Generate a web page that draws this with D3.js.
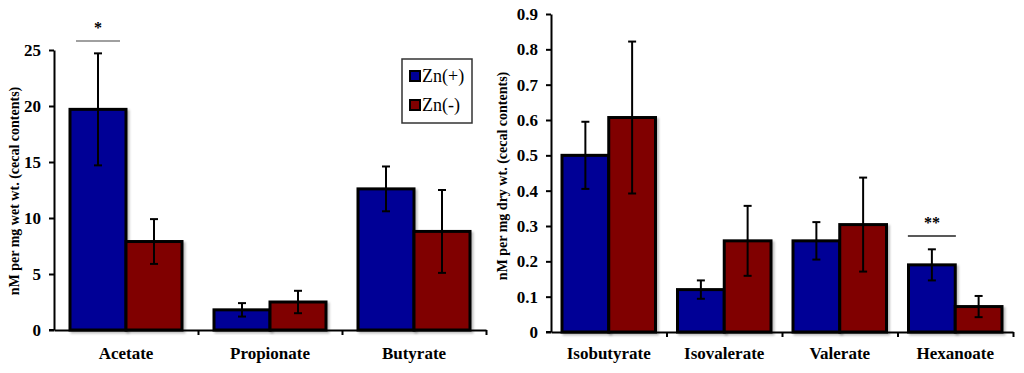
<!DOCTYPE html>
<html>
<head>
<meta charset="utf-8">
<script src="https://cdn.jsdelivr.net/npm/d3@7/dist/d3.min.js"></script>
<style>
  body { margin: 0; background: #fff; }
  svg { display: block; }
  svg text { font-family: "Liberation Serif", Tinos, "Times New Roman", "DejaVu Serif", serif !important; }
</style>
</head>
<body>
<div id="chart"></div>
<script>
// data
var series = ["Zn(+)", "Zn(-)"];
var colors = ["#000096", "#800000"];

var leftCats = ["Acetate", "Propionate", "Butyrate"];
var leftPlus = [19.7, 1.8, 12.6];
var leftPlusErr = [5.0, 0.6, 2.0];
var leftMinus = [7.9, 2.5, 8.8];
var leftMinusErr = [2.0, 1.0, 3.7];
var leftTicks = [0, 5, 10, 15, 20, 25];

var rightCats = ["Isobutyrate", "Isovalerate", "Valerate", "Hexanoate"];
var rightPlus = [0.50, 0.12, 0.258, 0.19];
var rightPlusErr = [0.095, 0.026, 0.053, 0.044];
var rightMinus = [0.607, 0.258, 0.304, 0.072];
var rightMinusErr = [0.215, 0.099, 0.133, 0.03];
var rightTicks = [0, 0.1, 0.2, 0.3, 0.4, 0.5, 0.6, 0.7, 0.8, 0.9];

var serif = "'Liberation Serif', Tinos, 'Times New Roman', 'DejaVu Serif', serif";

var svg = d3.select("#chart")
            .append("svg")
            .attr("width", 1024)
            .attr("height", 373);

var defs = svg.append("defs");
var f = defs.append("filter").attr("id", "shadow")
            .attr("x", "-10%").attr("y", "-10%").attr("width", "130%").attr("height", "130%");
f.append("feDropShadow").attr("dx", 2).attr("dy", 2).attr("stdDeviation", 1)
    .attr("flood-color", "#000").attr("flood-opacity", 0.25);

function drawPanel(o) {
    var g = svg.append("g");
    var x = d3.scaleBand().domain(o.cats).range([o.x0, o.x1]);
    var xs = d3.scaleBand().domain(series).range([o.pad, x.bandwidth() - o.pad]);
    var y = d3.scaleLinear().domain(o.domain).range([o.y0, o.y1]);

    var rows = [];
    o.cats.forEach(function(c, i) {
        rows.push({cat: c, s: 0, v: o.plus[i], e: o.plusErr[i]});
        rows.push({cat: c, s: 1, v: o.minus[i], e: o.minusErr[i]});
    });

    g.selectAll("rect.bar")
        .data(rows)
        .enter()
        .append("rect")
        .attr("class", "bar")
        .attr("x", function(d) { return x(d.cat) + xs(series[d.s]); })
        .attr("y", function(d) { return y(d.v); })
        .attr("width", xs.bandwidth())
        .attr("height", function(d) { return y(0) - y(d.v); })
        .attr("fill", function(d) { return colors[d.s]; })
        .attr("stroke", "#000")
        .attr("stroke-width", 3)
        .attr("filter", "url(#shadow)");

    // error bars
    var eb = g.selectAll("g.err")
        .data(rows)
        .enter()
        .append("g")
        .attr("stroke", "#000")
        .attr("stroke-width", 2);
    eb.append("line")
        .attr("x1", function(d) { return x(d.cat) + xs(series[d.s]) + xs.bandwidth() / 2; })
        .attr("x2", function(d) { return x(d.cat) + xs(series[d.s]) + xs.bandwidth() / 2; })
        .attr("y1", function(d) { return y(d.v - d.e); })
        .attr("y2", function(d) { return y(d.v + d.e); });
    [-1, 1].forEach(function(k) {
        eb.append("line")
            .attr("x1", function(d) { return x(d.cat) + xs(series[d.s]) + xs.bandwidth() / 2 - 4; })
            .attr("x2", function(d) { return x(d.cat) + xs(series[d.s]) + xs.bandwidth() / 2 + 4; })
            .attr("y1", function(d) { return y(d.v + k * d.e); })
            .attr("y2", function(d) { return y(d.v + k * d.e); });
    });

    // y axis
    var ya = g.append("g")
        .attr("transform", "translate(" + o.x0 + ",0)")
        .call(d3.axisLeft(y).tickValues(o.ticks).tickSize(5).tickPadding(8).tickSizeOuter(0)
              .tickFormat(function(d) { return d; }));
    ya.attr("font-family", serif);
    ya.select(".domain").attr("stroke-width", 2);
    ya.selectAll(".tick line").attr("stroke-width", 2);
    ya.selectAll("text")
        .style("font-family", serif)
        .attr("font-weight", "bold")
        .attr("font-size", "17px")
        .attr("fill", "#000");

    // x axis with ticks at band boundaries
    var xi = d3.scaleLinear().domain([0, o.cats.length]).range([o.x0, o.x1]);
    var xa = g.append("g")
        .attr("transform", "translate(0," + o.y0 + ")")
        .call(d3.axisBottom(xi).tickValues(d3.range(o.cats.length + 1)).tickSize(5)
              .tickSizeOuter(0).tickFormat(""));
    xa.select(".domain").attr("stroke-width", 2);
    xa.selectAll(".tick line").attr("stroke-width", 2);
    xa.selectAll(".tick").filter(function(d) { return d === 0; }).select("line").remove();
    g.append("line")
        .attr("x1", o.x0 - 5).attr("x2", o.x0)
        .attr("y1", o.y0).attr("y2", o.y0)
        .attr("stroke", "#000").attr("stroke-width", 2);

    g.selectAll("text.cat")
        .data(o.cats)
        .enter()
        .append("text")
        .attr("class", "cat")
        .text(function(d) { return d; })
        .attr("x", function(d) { return x(d) + x.bandwidth() / 2; })
        .attr("y", 359)
        .attr("text-anchor", "middle")
        .style("font-family", serif)
        .attr("font-weight", "bold")
        .attr("font-size", "17px")
        .attr("fill", "#000");

    g.append("text")
        .attr("transform", "translate(" + o.titleX + "," + o.titleY + ") rotate(-90)")
        .attr("text-anchor", "middle")
        .attr("dy", "0.35em")
        .style("font-family", serif)
        .attr("font-weight", "bold")
        .attr("font-size", "14px")
        .attr("fill", "#000")
        .text(o.title);

    // significance marker
    var sc = o.sig.cat;
    g.append("line")
        .attr("x1", x(sc) + xs(series[0]) + xs.bandwidth() / 2 - o.sig.half)
        .attr("x2", x(sc) + xs(series[0]) + xs.bandwidth() / 2 + o.sig.half)
        .attr("y1", y(o.sig.level)).attr("y2", y(o.sig.level))
        .attr("stroke", o.sig.color).attr("stroke-width", 1.5);
    g.append("text")
        .attr("x", x(sc) + xs(series[0]) + xs.bandwidth() / 2)
        .attr("y", y(o.sig.level) - 8)
        .attr("text-anchor", "middle")
        .style("font-family", serif)
        .attr("font-weight", "bold")
        .attr("font-size", "16px")
        .attr("fill", "#000")
        .text(o.sig.label);
}

drawPanel({
    cats: leftCats, plus: leftPlus, plusErr: leftPlusErr, minus: leftMinus, minusErr: leftMinusErr,
    ticks: leftTicks, domain: [0, 25], x0: 54, x1: 486, y0: 330, y1: 50, pad: 16,
    title: "nM per mg wet wt. (cecal contents)", titleX: 14, titleY: 191,
    sig: {cat: "Acetate", level: 25.8, half: 22, label: "*", color: "#808080"}
});

drawPanel({
    cats: rightCats, plus: rightPlus, plusErr: rightPlusErr, minus: rightMinus, minusErr: rightMinusErr,
    ticks: rightTicks, domain: [0, 0.9], x0: 551, x1: 1013, y0: 332, y1: 14, pad: 11,
    title: "nM per mg dry wt. (cecal contents)", titleX: 502, titleY: 176,
    sig: {cat: "Hexanoate", level: 0.272, half: 24, label: "**", color: "#222"}
});

// legend
var lg = svg.append("g").attr("transform", "translate(402,59)");
lg.append("rect")
    .attr("width", 70).attr("height", 64)
    .attr("fill", "#fff").attr("stroke", "#333").attr("stroke-width", 1.5);
series.forEach(function(s, i) {
    lg.append("rect")
        .attr("x", 8).attr("y", 12 + i * 29)
        .attr("width", 10).attr("height", 10)
        .attr("fill", colors[i]).attr("stroke", "#000").attr("stroke-width", 2);
    lg.append("text")
        .attr("x", 20).attr("y", 17 + i * 29)
        .attr("dy", "0.35em")
        .style("font-family", serif)
        .attr("font-size", "18px")
        .attr("fill", "#000")
        .text(s);
});
</script>
</body>
</html>
